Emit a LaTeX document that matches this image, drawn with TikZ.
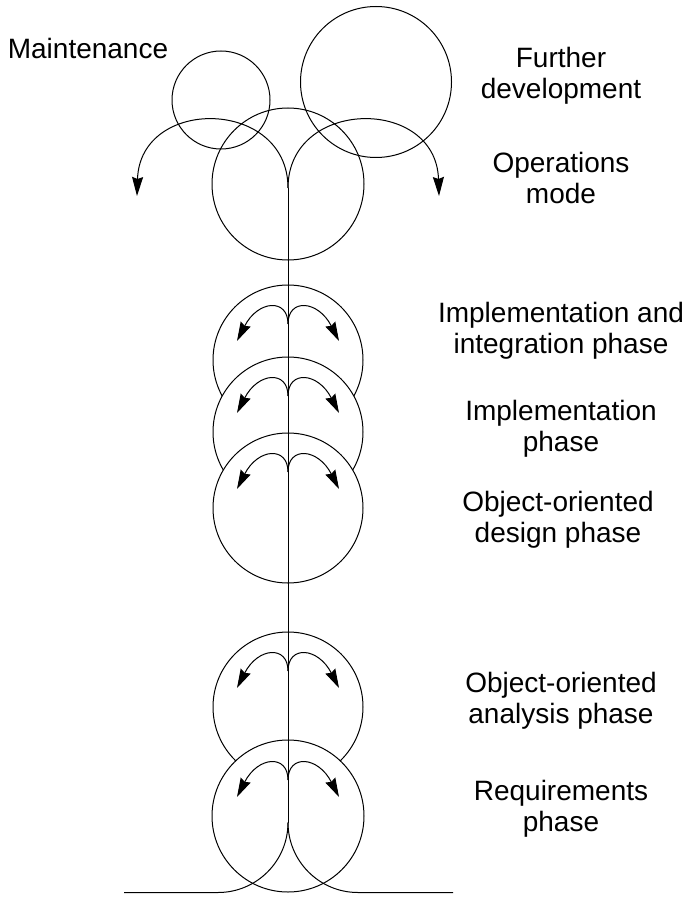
\documentclass[tikz,border=0pt]{standalone}
\usepackage{fontspec}
\setmainfont{Liberation Sans}
\usetikzlibrary{arrows.meta}

\begin{document}
\begin{tikzpicture}[x=1pt, y=1pt, line width=1pt,
        ring/.style={draw, circle, inner sep=0pt, minimum size=#1},
        phase/.style={ring=150pt, fill=white},
        flow/.style={-{Stealth[length=19pt, width=11pt, inset=2pt]}},
        caption/.style={inner sep=0pt, align=center, font=\fontsize{28}{31.5}\selectfont}]
    \useasboundingbox (0,0) rectangle (693,-912);
    \node[ring=98pt]  (maint)   at (221,-100) {};
    \node[ring=151pt] (further) at (376,-82)  {};
    \node[ring=152pt] (ops)     at (288,-184) {};
    \coordinate (top-cusp) at (288,-188);
    \draw[flow] (top-cusp) .. controls (288,-98) and (140,-96) .. (137,-196);
    \draw[flow] (top-cusp) .. controls (288,-98) and (436,-96) .. (439,-196);
    \node[phase] (integ)    at (288,-360) {};
    \node[phase] (impl)     at (288,-432) {};
    \node[phase] (design)   at (288,-508) {};
    \node[phase] (analysis) at (288,-707) {};
    \node[phase, minimum size=152pt] (req) at (288,-816) {};
    \coordinate (base-cusp)  at (288,-822.5);
    \coordinate (base-left)  at (124,-892.5);
    \coordinate (base-right) at (453,-892.5);
    \draw (top-cusp) -- (base-cusp);
    \foreach \ph in {integ,impl,design,analysis,req}{
        \begin{scope}[shift={(\ph.center)}]
            \coordinate (\ph-cusp) at (0,36);
            \draw[flow] (\ph-cusp) .. controls (0,62) and (-30,60) .. (-51,19);
            \draw[flow] (\ph-cusp) .. controls (0,62) and (30,60) .. (51,19);
        \end{scope}
    }
    \draw (base-cusp) arc[start angle=0, end angle=-90, radius=70pt] -- (base-left);
    \draw (base-cusp) arc[start angle=180, end angle=270, radius=70pt] -- (base-right);
    \node[caption] (maint-label)    at (88,-48)   {Maintenance};
    \node[caption] (further-label)  at (561,-76)  {Further\\development};
    \node[caption] (ops-label)      at (561,-178) {Operations\\mode};
    \node[caption] (integ-label)    at (561,-331) {Implementation and\\integration phase};
    \node[caption] (impl-label)     at (561,-429) {Implementation\\phase};
    \node[caption] (design-label)   at (558,-520) {Object-oriented\\design phase};
    \node[caption] (analysis-label) at (561,-701) {Object-oriented\\analysis phase};
    \node[caption] (req-label)      at (561,-809) {Requirements\\phase};
\end{tikzpicture}
\end{document}
